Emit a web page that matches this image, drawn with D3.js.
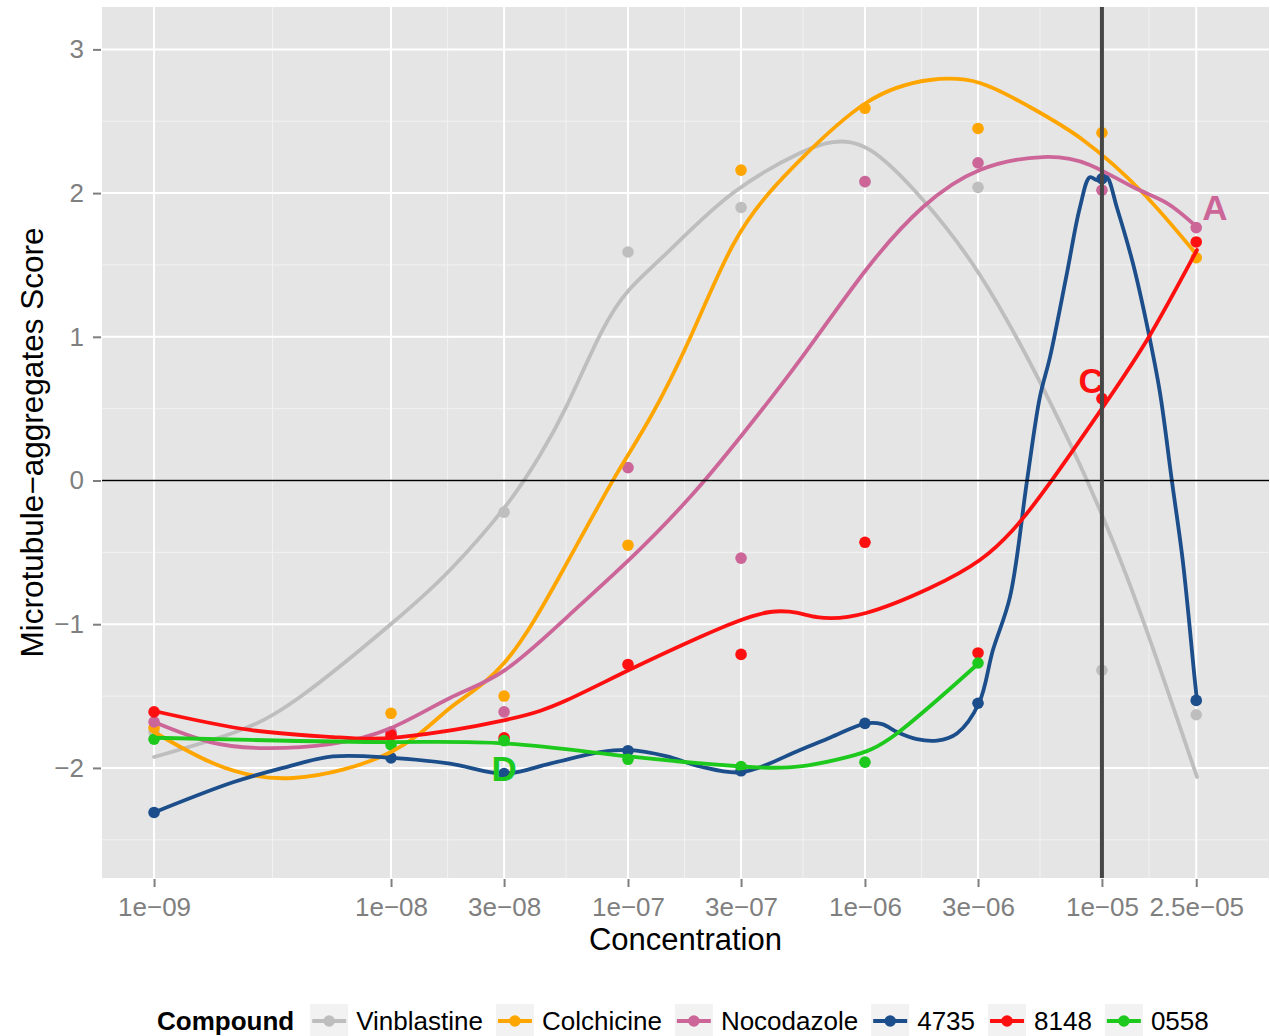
<!DOCTYPE html>
<html>
<head>
<meta charset="utf-8">
<script src="https://cdn.jsdelivr.net/npm/d3@7"></script>
<style>
  html, body { margin: 0; padding: 0; background: #ffffff; }
  svg { display: block; font-family: "Liberation Sans", Arial, Helvetica, sans-serif; }
</style>
</head>
<body>
<svg id="chart" width="1270" height="1036"></svg>
<script>
// ---- data -------------------------------------------------------------
const concentrations = [1e-9, 1e-8, 3e-8, 1e-7, 3e-7, 1e-6, 3e-6, 1e-5, 2.5e-5];
const xTickLabels = ["1e\u221209", "1e\u221208", "3e\u221208", "1e\u221207", "3e\u221207",
                     "1e\u221206", "3e\u221206", "1e\u221205", "2.5e\u221205"];
const yTicks = [-2, -1, 0, 1, 2, 3];
const compounds = ["Vinblastine", "Colchicine", "Nocodazole", "4735", "8148", "0558"];
const compoundColors = ["#BEBEBE", "#FFA500", "#CC6699", "#1B4E8A", "#FF1010", "#1DC91D"];

// measured scores per concentration (null = not measured)
const vinblastineScores = [-1.75, -1.78, -0.22, 1.59, 1.90, 2.08, 2.04, -1.32, -1.63];
const colchicineScores  = [-1.72, -1.62, -1.50, -0.45, 2.16, 2.59, 2.45, 2.42, 1.55];
const nocodazoleScores  = [-1.68, -1.75, -1.61, 0.09, -0.54, 2.08, 2.21, 2.02, 1.76];
const c4735Scores       = [-2.31, -1.93, -2.04, -1.88, -2.02, -1.69, -1.55, 2.10, -1.53];
const c8148Scores       = [-1.61, -1.77, -1.79, -1.28, -1.21, -0.43, -1.20, 0.57, 1.66];
const c0558Scores       = [-1.80, -1.84, -1.81, -1.94, -1.99, -1.96, -1.27, null, null];

// smoothed fits: [log10 concentration, score]
const vinblastineFit = [[-9.000,-1.924],[-8.667,-1.757],[-8.384,-1.507],[-8.000,-0.999],
  [-7.751,-0.623],[-7.519,-0.184],[-7.371,0.177],[-7.257,0.525],[-7.118,1.013],[-6.996,1.326],
  [-6.823,1.604],[-6.557,2.001],[-6.274,2.279],[-6.135,2.355],[-5.979,2.300],[-5.755,1.952],
  [-5.515,1.430],[-5.249,0.644],[-4.996,-0.254],[-4.797,-1.110],[-4.599,-2.063]];
const colchicineFit = [[-9.000,-1.750],[-8.743,-1.973],[-8.414,-2.070],[-8.000,-1.889],
  [-7.751,-1.583],[-7.519,-1.263],[-7.274,-0.623],[-7.063,0.003],[-6.907,0.435],[-6.738,0.992],
  [-6.557,1.639],[-6.401,2.008],[-6.274,2.230],[-5.996,2.627],[-5.726,2.787],[-5.515,2.766],
  [-5.304,2.599],[-5.080,2.370],[-4.827,2.001],[-4.599,1.569]];
const nocodazoleFit = [[-9.000,-1.681],[-8.764,-1.820],[-8.523,-1.862],[-8.257,-1.834],
  [-8.000,-1.722],[-7.751,-1.513],[-7.519,-1.319],[-7.257,-0.950],[-6.996,-0.553],[-6.738,-0.115],
  [-6.519,0.317],[-6.274,0.839],[-5.996,1.465],[-5.755,1.903],[-5.515,2.161],[-5.249,2.251],
  [-5.051,2.196],[-4.869,2.042],[-4.726,1.931],[-4.599,1.764]];
const c4735Fit = [[-9.000,-2.31],[-8.667,-2.10],[-8.456,-2.00],[-8.245,-1.92],[-7.996,-1.93],
  [-7.751,-1.97],[-7.519,-2.04],[-7.329,-1.97],[-7.118,-1.89],[-6.996,-1.875],[-6.835,-1.92],
  [-6.696,-1.99],[-6.519,-2.03],[-6.274,-1.875],[-6.148,-1.79],[-5.996,-1.69],[-5.928,-1.695],
  [-5.865,-1.75],[-5.781,-1.80],[-5.696,-1.81],[-5.612,-1.76],[-5.519,-1.55],[-5.460,-1.18],
  [-5.388,-0.81],[-5.316,0.00],[-5.262,0.58],[-5.219,0.86],[-5.148,1.44],[-5.093,1.90],
  [-5.051,2.11],[-5.021,2.09],[-4.996,2.10],[-4.979,2.11],[-4.937,1.90],[-4.869,1.51],
  [-4.806,1.05],[-4.755,0.61],[-4.705,0.00],[-4.658,-0.57],[-4.608,-1.39],[-4.599,-1.53]];
const c8148Fit = [[-9.000,-1.604],[-8.595,-1.736],[-8.245,-1.785],[-7.962,-1.785],[-7.519,-1.667],
  [-7.257,-1.528],[-6.996,-1.319],[-6.696,-1.089],[-6.401,-0.915],[-6.203,-0.950],[-5.996,-0.922],
  [-5.726,-0.748],[-5.515,-0.553],[-5.376,-0.344],[-5.232,-0.045],[-4.996,0.511],[-4.797,1.013],
  [-4.599,1.604]];
const c0558Fit = [[-9.000,-1.79],[-8.595,-1.805],[-7.996,-1.82],[-7.519,-1.83],[-6.996,-1.92],
  [-6.519,-1.99],[-6.274,-1.99],[-6.063,-1.92],[-5.865,-1.76],[-5.519,-1.27]];

// letter annotations: [concentration, score, label, compound index]
const annotations = [[3e-5, 1.90, "A", 2], [9e-6, 0.70, "C", 4], [3e-8, -2.00, "D", 5]];
const refConcentration = 1e-5;

// ---- assemble series --------------------------------------------------
const scoreArrays = [vinblastineScores, colchicineScores, nocodazoleScores, c4735Scores, c8148Scores, c0558Scores];
const fitArrays = [vinblastineFit, colchicineFit, nocodazoleFit, c4735Fit, c8148Fit, c0558Fit];
const series = compounds.map((name, i) => ({
  name, color: compoundColors[i],
  points: concentrations.map((c, j) => ({ c, v: scoreArrays[i][j] })).filter(d => d.v !== null),
  fit: fitArrays[i].map(([lc, v]) => ({ c: Math.pow(10, lc), v }))
}));

// ---- layout -----------------------------------------------------------
const svg = d3.select("#chart");
const panel = { left: 102, right: 1269, top: 7, bottom: 878 };

const x = d3.scaleLog().domain([6.03e-10, 5.07e-5]).range([panel.left, panel.right]);
const y = d3.scaleLinear().domain([-2.766, 3.295]).range([panel.bottom, panel.top]);

svg.append("rect").attr("width", 1270).attr("height", 1036).attr("fill", "#ffffff");
svg.append("rect")
  .attr("x", panel.left).attr("y", panel.top)
  .attr("width", panel.right - panel.left).attr("height", panel.bottom - panel.top)
  .attr("fill", "#E5E5E5");

// minor grid: midpoints between major breaks
const lx = concentrations.map(c => Math.log10(c));
const minorX = d3.range(lx.length - 1).map(i => Math.pow(10, (lx[i] + lx[i + 1]) / 2));
const minorY = d3.range(yTicks.length - 1).map(i => (yTicks[i] + yTicks[i + 1]) / 2)
  .concat([yTicks[0] - 0.5]);

const grid = svg.append("g");
grid.selectAll(".mx").data(minorX).join("line")
  .attr("x1", d => x(d)).attr("x2", d => x(d)).attr("y1", panel.top).attr("y2", panel.bottom)
  .attr("stroke", "#F2F2F2").attr("stroke-width", 1);
grid.selectAll(".my").data(minorY).join("line")
  .attr("x1", panel.left).attr("x2", panel.right).attr("y1", d => y(d)).attr("y2", d => y(d))
  .attr("stroke", "#F2F2F2").attr("stroke-width", 1);
grid.selectAll(".Mx").data(concentrations).join("line")
  .attr("x1", d => x(d)).attr("x2", d => x(d)).attr("y1", panel.top).attr("y2", panel.bottom)
  .attr("stroke", "#ffffff").attr("stroke-width", 2);
grid.selectAll(".My").data(yTicks).join("line")
  .attr("x1", panel.left).attr("x2", panel.right).attr("y1", d => y(d)).attr("y2", d => y(d))
  .attr("stroke", "#ffffff").attr("stroke-width", 2);

// ---- axes -------------------------------------------------------------
const xAxis = d3.axisBottom(x).tickValues(concentrations)
  .tickFormat((d, i) => xTickLabels[i]).tickSize(8).tickPadding(11);
const gx = svg.append("g").attr("transform", `translate(0,${panel.bottom + 1})`).call(xAxis);
gx.select(".domain").remove();
gx.selectAll(".tick line").attr("stroke", "#7F7F7F").attr("stroke-width", 2);
gx.selectAll(".tick text").attr("fill", "#7F7F7F").attr("font-size", 26)
  .attr("font-family", "Liberation Sans, Arial, sans-serif");

const yAxis = d3.axisLeft(y).tickValues(yTicks)
  .tickFormat(d => d < 0 ? "\u2212" + Math.abs(d) : String(d)).tickSize(8).tickPadding(9);
const gy = svg.append("g").attr("transform", `translate(${panel.left - 1},0)`).call(yAxis);
gy.select(".domain").remove();
gy.selectAll(".tick line").attr("stroke", "#7F7F7F").attr("stroke-width", 2);
gy.selectAll(".tick text").attr("fill", "#7F7F7F").attr("font-size", 26)
  .attr("font-family", "Liberation Sans, Arial, sans-serif");

svg.append("text").attr("x", (panel.left + panel.right) / 2).attr("y", 950)
  .attr("text-anchor", "middle").attr("font-size", 31).attr("fill", "#000")
  .text("Concentration");
svg.append("text")
  .attr("transform", `translate(43,${(panel.top + panel.bottom) / 2}) rotate(-90)`)
  .attr("text-anchor", "middle").attr("font-size", 31.5).attr("fill", "#000")
  .text("Microtubule\u2212aggregates Score");

// ---- marks ------------------------------------------------------------
const plot = svg.append("g");
series.forEach(s => {
  plot.append("g").selectAll("circle").data(s.points).join("circle")
    .attr("cx", d => x(d.c)).attr("cy", d => y(d.v)).attr("r", 5.8)
    .attr("fill", s.color);
});
// natural splines for the broad smoothers; the sharply peaked 4735 fit uses Catmull-Rom
const smoothLine = d3.line().x(d => x(d.c)).y(d => y(d.v)).curve(d3.curveNatural);
const peakLine = d3.line().x(d => x(d.c)).y(d => y(d.v)).curve(d3.curveCatmullRom.alpha(0.5));
series.forEach(s => {
  plot.append("path").datum(s.fit).attr("d", s.name === "4735" ? peakLine : smoothLine)
    .attr("fill", "none").attr("stroke", s.color).attr("stroke-width", 3.8)
    .attr("stroke-linejoin", "round").attr("stroke-linecap", "round");
});

// letter labels
svg.append("g").selectAll("text").data(annotations).join("text")
  .attr("x", d => x(d[0])).attr("y", d => y(d[1]))
  .attr("dy", "0.36em").attr("text-anchor", "middle")
  .attr("font-size", 35).attr("font-weight", "bold")
  .attr("fill", d => compoundColors[d[3]])
  .text(d => d[2]);

// reference lines
svg.append("line").attr("x1", panel.left).attr("x2", panel.right)
  .attr("y1", y(0)).attr("y2", y(0)).attr("stroke", "#000").attr("stroke-width", 1.6);
svg.append("line").attr("x1", x(refConcentration)).attr("x2", x(refConcentration))
  .attr("y1", panel.top).attr("y2", panel.bottom).attr("stroke", "#464646").attr("stroke-width", 4);

// ---- legend -----------------------------------------------------------
const legend = svg.append("g");
const legendMid = 1021;
const title = legend.append("text").attr("x", 157).attr("y", legendMid).attr("dy", "0.36em")
  .attr("font-size", 26).attr("font-weight", "bold").attr("fill", "#000").text("Compound");
let lxPos = 157 + title.node().getComputedTextLength() + 16;
series.forEach(s => {
  const g = legend.append("g").attr("transform", `translate(${lxPos},0)`);
  g.append("rect").attr("x", 0).attr("y", legendMid - 17).attr("width", 38).attr("height", 34)
    .attr("fill", "#F2F2F2");
  g.append("line").attr("x1", 2).attr("x2", 36).attr("y1", legendMid).attr("y2", legendMid)
    .attr("stroke", s.color).attr("stroke-width", 3.8);
  g.append("circle").attr("cx", 19).attr("cy", legendMid).attr("r", 5.8).attr("fill", s.color);
  const t = g.append("text").attr("x", 46).attr("y", legendMid).attr("dy", "0.36em")
    .attr("font-size", 26).attr("fill", "#000").text(s.name);
  lxPos += 46 + t.node().getComputedTextLength() + 13;
});
</script>
</body>
</html>
